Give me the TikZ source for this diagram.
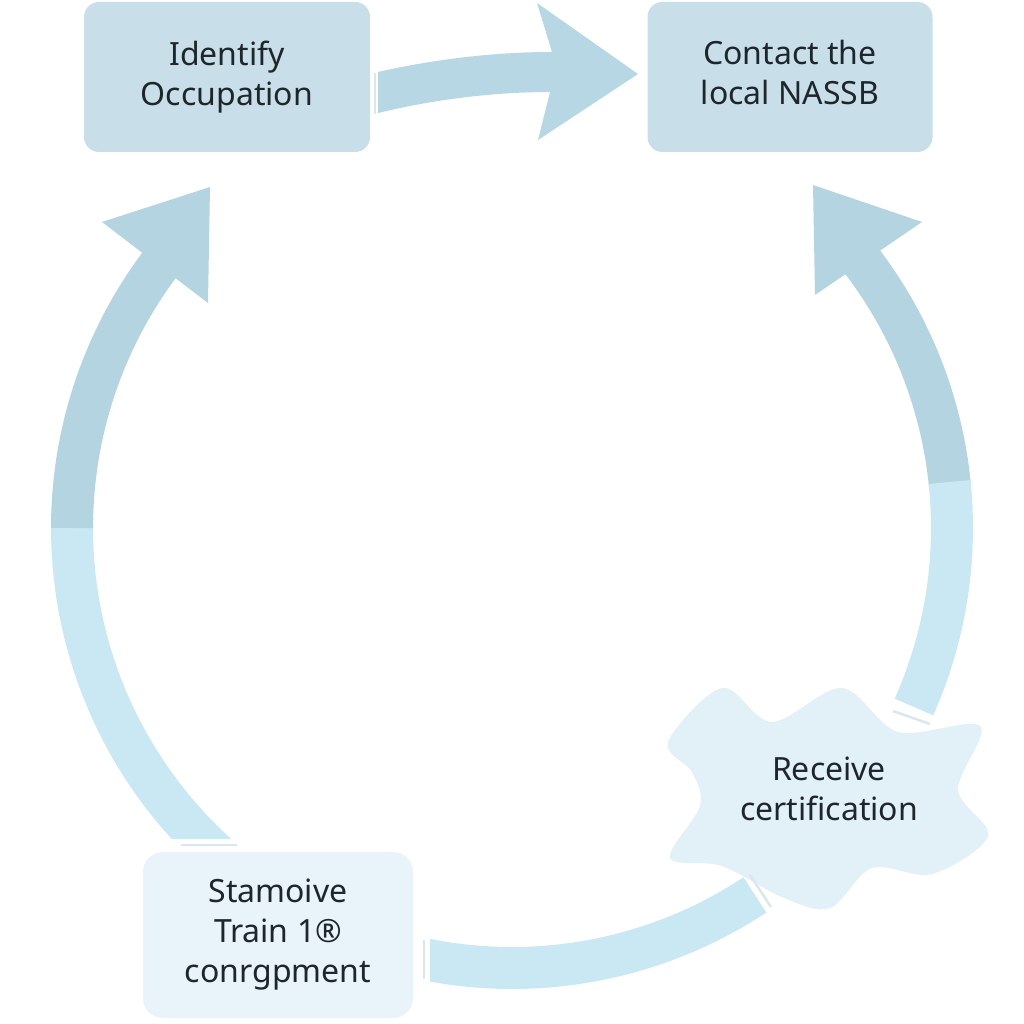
\documentclass[tikz,border=0pt]{standalone}
\usepackage{fontspec}
\setmainfont{Noto Sans}
\definecolor{boxblue}{HTML}{C8DFEA}
\definecolor{arcdark}{HTML}{B4D4E2}
\definecolor{arclight}{HTML}{CAE8F3}
\definecolor{topblue}{HTML}{B8D7E5}
\definecolor{paleblue}{HTML}{E8F3FA}
\definecolor{cloudblue}{HTML}{E2F0F8}
\definecolor{capgrey}{HTML}{DCE7ED}
\definecolor{inkdark}{HTML}{1E252B}
\tikzset{
  steptext/.style={text=inkdark, align=center, font=\fontsize{32}{40}\selectfont},
  stepbox/.style={steptext, rounded corners=15pt, fill=boxblue},
  band/.style={line width=42pt},
  capline/.style={capgrey, line width=2.5pt}
}
\newcommand\ringpart[3]{%
  \draw[band, #3] plot[domain=#1:#2, samples=40, variable=\t]
    ({512+440*cos(\t)}, {528+440*sin(\t)});}

\begin{document}
\begin{tikzpicture}[x=1pt, y=-1pt]
    \useasboundingbox (0,0) rectangle (1024,1024);
    \fill[white] (0,0) rectangle (1024,1024);

    \node[stepbox, minimum width=286pt, minimum height=150pt] (ident) at (227,77)
      {Identify\\Occupation};
    \node[stepbox, minimum width=285pt, minimum height=150pt] (contact) at (790,77)
      {\raisebox{3pt}{\begin{tabular}{@{}c@{}}Contact the\\local NASSB\end{tabular}}};

    % top arrow
    \fill[topblue] (378,72) .. controls (440,58) and (500,52) .. (552,52)
      -- (537,3) -- (638,74) -- (538,140) -- (550,92)
      .. controls (500,92) and (440,98) .. (378,113) -- cycle;
    \draw[capline] (375,73) -- (375,114);

    % left side of the ring
    \begin{scope}
      \clip (0,0) rectangle (1024,838);
      \ringpart{128}{180.5}{arclight}
    \end{scope}
    \ringpart{180}{218}{arcdark}
    \fill[arcdark] (210,187) -- (102,222) -- (208,303) -- cycle;
    \draw[capline] (181,845) -- (237,845);

    % right side of the ring
    \ringpart{-38}{-5.5}{arcdark}
    \ringpart{-6}{24}{arclight}
    \fill[arcdark] (813,185) -- (922,222) -- (815,295) -- cycle;

    % bottom of the ring
    \begin{scope}
      \clip (430,0) rectangle (1024,1024);
      \ringpart{56.5}{104}{arclight}
    \end{scope}
    \draw[capline] (424,940) -- (424,979);

    % receive certification
    \fill[cloudblue] plot[smooth cycle, tension=0.55] coordinates {
      (668,742) (722,688) (772,722) (842,688) (898,732) (980,726)
      (958,790) (988,836) (932,874) (872,868) (830,908) (784,898)
      (722,866) (670,858) (700,806) (692,772)};
    \draw[capline] (750,875) -- (771,907);
    \draw[capline] (893,711) -- (930,724);
    \node[steptext] (recv) at (829,789) {Receive\\certification};

    \node[stepbox, fill=paleblue, rounded corners=20pt, minimum width=270pt,
      minimum height=166pt] (train) at (278,935)
      {Stamoive\\Train 1®\\conrgpment};
  \end{tikzpicture}
\end{document}
